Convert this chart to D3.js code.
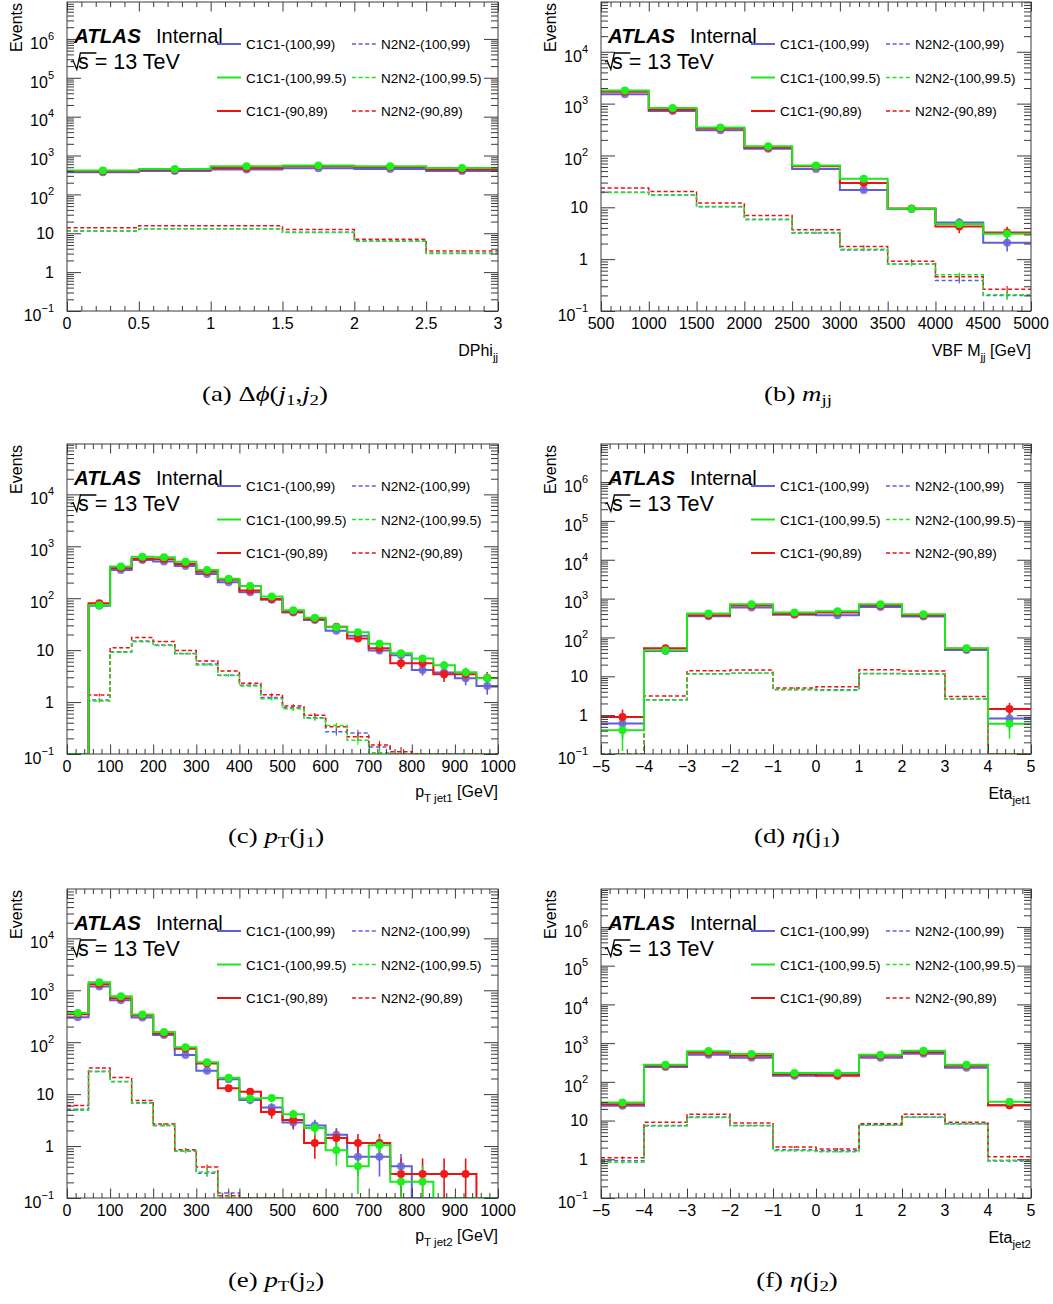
<!DOCTYPE html>
<html>
<head>
<meta charset="utf-8">
<script src="https://cdn.jsdelivr.net/npm/d3@7"></script>
<style>
  body { margin: 0; background: #fff; }
  svg { display: block; }
  text { font-family: "Liberation Sans", Arial, Helvetica, sans-serif; fill: #000; }
  .cap text { font-family: "Liberation Serif", "Times New Roman", serif; }
</style>
</head>
<body>
<svg id="fig" width="1053" height="1304"></svg>
<script>
// ---------------- samples ----------------
const seriesNames = ["C1C1-(100,99)", "C1C1-(100,99.5)", "C1C1-(90,89)",
                     "N2N2-(100,99)", "N2N2-(100,99.5)", "N2N2-(90,89)"];
// per-event MC weight of each sample (sets the statistical error bars)
const eventWeights = [0.21, 0.206, 0.286, 0.006, 0.006, 0.006];

// ---------------- (a) DPhi_jj ----------------
const dphiEdges = [0, 0.5, 1, 1.5, 2, 2.5, 3];
const dphiTicks = [0, 0.5, 1, 1.5, 2, 2.5, 3];
const dphiC1C1_100_99  = [370, 400, 436, 470, 452, 400];
const dphiC1C1_100_995 = [410, 452, 530, 550, 530, 480];
const dphiC1C1_90_89   = [395, 430, 480, 530, 510, 436];
const dphiN2N2_100_99  = [11.4, 13.1, 13.0, 10.6, 6.3, 3.05];
const dphiN2N2_100_995 = [11.5, 13.0, 13.0, 10.5, 6.2, 3.0];
const dphiN2N2_90_89   = [13.8, 15.5, 15.5, 12.5, 7.05, 3.5];

// ---------------- (b) VBF M_jj ----------------
const mjjEdges = [500, 1000, 1500, 2000, 2500, 3000, 3500, 4000, 4500, 5000];
const mjjTicks = [500, 1000, 1500, 2000, 2500, 3000, 3500, 4000, 4500, 5000];
const mjjC1C1_100_99  = [1510, 720, 305, 135, 55, 21.5, 9.3, 5.1, 2.07];
const mjjC1C1_100_995 = [1800, 822, 348, 150, 64, 35.5, 9.4, 4.74, 3.08];
const mjjC1C1_90_89   = [1700, 763, 332, 143, 62, 29.3, 9.5, 4.27, 3.27];
const mjjN2N2_100_99  = [19.6, 17.3, 10.2, 5.9, 3.2, 1.51, 0.81, 0.387, 0.2];
const mjjN2N2_100_995 = [19.4, 17.5, 10.4, 5.74, 3.27, 1.56, 0.80, 0.50, 0.205];
const mjjN2N2_90_89   = [23.5, 20.2, 12.05, 6.97, 3.68, 1.76, 0.915, 0.46, 0.264];

// ---------------- (c) pT jet1 ----------------
const ptEdges = [0, 50, 100, 150, 200, 250, 300, 350, 400, 450, 500,
                 550, 600, 650, 700, 750, 800, 850, 900, 950, 1000];
const ptTicks = [0, 100, 200, 300, 400, 500, 600, 700, 800, 900, 1000];
const pt1C1C1_100_99  = [0, 72, 348, 543, 512, 416, 292, 204, 131, 93, 52.8, 38, 23.7, 18.9, 9.86, 8.0, 4.16, 3.7, 2.87, 2.04];
const pt1C1C1_100_995 = [0, 73, 410, 630, 612, 505, 348, 237, 171, 108, 58.6, 42.2, 27.5, 22, 13.3, 8.75, 6.9, 5.13, 3.75, 2.87];
const pt1C1C1_90_89   = [0, 80, 380, 577, 560, 455, 324, 226, 141, 97, 55, 39.8, 28.3, 16.8, 10.9, 5.6, 5.6, 3.43, 3.43, 2.9];
const pt1N2N2_100_99  = [0, 1.1, 9.3, 15, 12.5, 8.6, 5.4, 3.3, 2.1, 1.23, 0.78, 0.5, 0.267, 0.255, 0.136, 0.095, 0, 0, 0, 0];
const pt1N2N2_100_995 = [0, 1.05, 9.15, 14.5, 12.3, 8.5, 5.2, 3.24, 2.04, 1.16, 0.74, 0.49, 0.353, 0.184, 0.106, 0.09, 0, 0, 0, 0];
const pt1N2N2_90_89   = [0, 1.37, 11.1, 17.6, 14.7, 9.86, 6.2, 3.98, 2.3, 1.39, 0.84, 0.56, 0.333, 0.216, 0.149, 0.11, 0, 0, 0, 0];

// ---------------- (d) Eta jet1 ----------------
const etaEdges = [-5, -4, -3, -2, -1, 0, 1, 2, 3, 4, 5];
const etaTicks = [-5, -4, -3, -2, -1, 0, 1, 2, 3, 4, 5];
const eta1C1C1_100_99  = [0.61, 44.8, 351, 587, 387, 372, 611, 344, 47.5, 0.82];
const eta1C1C1_100_995 = [0.41, 46.6, 411, 716, 436, 472, 716, 395, 53, 0.60];
const eta1C1C1_90_89   = [0.89, 52.5, 372, 662, 403, 436, 674, 372, 51.5, 1.43];
const eta1N2N2_100_99  = [0, 2.5, 11.6, 12.0, 4.6, 4.5, 11.8, 11.5, 2.6, 0];
const eta1N2N2_100_995 = [0, 2.44, 11.4, 11.9, 4.5, 4.33, 11.6, 11.4, 2.59, 0];
const eta1N2N2_90_89   = [0, 3.09, 13.9, 14.5, 4.97, 5.38, 14.8, 13.6, 3.03, 0];

// ---------------- (e) pT jet2 ----------------
const pt2C1C1_100_99  = [303, 1177, 642, 298, 138, 57, 28.1, 19.4, 7.67, 5.54, 2.85, 2.5, 1.65, 0.62, 0.62, 0.41, 0, 0, 0, 0];
const pt2C1C1_100_995 = [366, 1425, 767, 340, 158, 80, 41.2, 20.6, 8.26, 8.4, 4.12, 2.22, 0.83, 0.41, 1.04, 0.206, 0.206, 0, 0, 0];
const pt2C1C1_90_89   = [345, 1304, 702, 326, 147, 74.5, 38.9, 13.0, 11.1, 4.51, 3.16, 1.14, 1.43, 1.14, 1.14, 0.29, 0.29, 0.29, 0.29, 0];
const pt2N2N2_100_99  = [5.1, 27.5, 17.5, 6.8, 2.5, 0.8, 0.3, 0.125, 0, 0, 0, 0, 0, 0, 0, 0, 0, 0, 0, 0];
const pt2N2N2_100_995 = [4.92, 26.9, 17.3, 6.7, 2.5, 0.80, 0.316, 0.1, 0, 0, 0, 0, 0, 0, 0, 0, 0, 0, 0, 0];
const pt2N2N2_90_89   = [6.05, 32, 20.9, 7.55, 2.65, 0.85, 0.395, 0.11, 0, 0, 0, 0, 0, 0, 0, 0, 0, 0, 0, 0];

// ---------------- (f) Eta jet2 ----------------
const eta2C1C1_100_99  = [24.0, 241, 500, 419, 144, 156, 419, 531, 232, 25];
const eta2C1C1_100_995 = [29.2, 277, 621, 520, 169, 169, 500, 634, 277, 30.4];
const eta2C1C1_90_89   = [26.5, 261, 563, 472, 156, 144, 472, 586, 261, 24.9];
const eta2N2N2_100_99  = [0.92, 7.4, 12.3, 7.5, 1.75, 1.65, 7.8, 12.4, 8.3, 0.9];
const eta2N2N2_100_995 = [0.84, 7.2, 12.0, 7.3, 1.67, 1.57, 7.6, 12.2, 8.1, 0.94];
const eta2N2N2_90_89   = [1.10, 9.1, 14.6, 8.6, 2.07, 1.84, 8.26, 14.6, 9.1, 1.17];

// ---------------- styling ----------------
const lineColours   = ["#5f5fdc", "#1ee61e", "#ee1111"];
const markerColours = ["rgba(100,100,222,0.85)", "#1ef01e", "#f01a1a"];
const drawOrder = [0, 2, 1];           // blue, red, green (green ends on top)
const yMin = 0.1;
const axisColour = "#3a3a3a";

const panels = [
  { left: 67,  top: 2,   right: 498,  bottom: 311,  yTopExp: 6.95, edges: dphiEdges, ticks: dphiTicks,
    solid: [dphiC1C1_100_99, dphiC1C1_100_995, dphiC1C1_90_89],
    dashed: [dphiN2N2_100_99, dphiN2N2_100_995, dphiN2N2_90_89],
    title: [["DPhi"], ["jj", "sub"]], titleDy: 45,
    caption: [["(a) Δ"], ["ϕ", "i"], ["("], ["j", "i"], ["1", "sub"], [","], ["j", "i"], ["2", "sub"], [")"]],
    capX: 265, capY: 401 },
  { left: 601, top: 2,   right: 1031, bottom: 311,  yTopExp: 4.96, edges: mjjEdges, ticks: mjjTicks,
    solid: [mjjC1C1_100_99, mjjC1C1_100_995, mjjC1C1_90_89],
    dashed: [mjjN2N2_100_99, mjjN2N2_100_995, mjjN2N2_90_89],
    title: [["VBF M"], ["jj", "sub"], [" [GeV]"]], titleDy: 45,
    caption: [["(b) "], ["m", "i"], ["jj", "sub"]],
    capX: 798, capY: 401 },
  { left: 67,  top: 444, right: 498,  bottom: 754,  yTopExp: 4.97, edges: ptEdges, ticks: ptTicks,
    solid: [pt1C1C1_100_99, pt1C1C1_100_995, pt1C1C1_90_89],
    dashed: [pt1N2N2_100_99, pt1N2N2_100_995, pt1N2N2_90_89],
    title: [["p"], ["T jet1", "sub"], [" [GeV]"]], titleDy: 43,
    caption: [["(c) "], ["p", "i"], ["T", "sub"], ["(j"], ["1", "sub"], [")"]],
    capX: 276, capY: 843 },
  { left: 601, top: 444, right: 1031, bottom: 754,  yTopExp: 6.98, edges: etaEdges, ticks: etaTicks,
    solid: [eta1C1C1_100_99, eta1C1C1_100_995, eta1C1C1_90_89],
    dashed: [eta1N2N2_100_99, eta1N2N2_100_995, eta1N2N2_90_89],
    title: [["Eta"], ["jet1", "sub"]], titleDy: 45,
    caption: [["(d) "], ["η", "i"], ["(j"], ["1", "sub"], [")"]],
    capX: 797, capY: 843 },
  { left: 67,  top: 889, right: 498,  bottom: 1198, yTopExp: 4.95, edges: ptEdges, ticks: ptTicks,
    solid: [pt2C1C1_100_99, pt2C1C1_100_995, pt2C1C1_90_89],
    dashed: [pt2N2N2_100_99, pt2N2N2_100_995, pt2N2N2_90_89],
    title: [["p"], ["T jet2", "sub"], [" [GeV]"]], titleDy: 43,
    caption: [["(e) "], ["p", "i"], ["T", "sub"], ["(j"], ["2", "sub"], [")"]],
    capX: 276, capY: 1287 },
  { left: 601, top: 889, right: 1031, bottom: 1198, yTopExp: 6.98, edges: etaEdges, ticks: etaTicks,
    solid: [eta2C1C1_100_99, eta2C1C1_100_995, eta2C1C1_90_89],
    dashed: [eta2N2N2_100_99, eta2N2N2_100_995, eta2N2N2_90_89],
    title: [["Eta"], ["jet2", "sub"]], titleDy: 45,
    caption: [["(f) "], ["η", "i"], ["(j"], ["2", "sub"], [")"]],
    capX: 797, capY: 1287 }
];

const svg = d3.select("#fig");

// writes a list of [text, kind] pieces as tspans; kind "sub" lowers and shrinks, "i" italicises
function richText(sel, pieces, subSize, subShift) {
  let shifted = 0;
  pieces.forEach(([t, kind]) => {
    const ts = sel.append("tspan").text(t);
    if (kind === "sub") {
      ts.attr("font-size", subSize).attr("dy", subShift - shifted);
      shifted = subShift;
    } else {
      if (shifted) ts.attr("dy", -shifted);
      shifted = 0;
      if (kind === "i") ts.attr("font-style", "italic");
    }
  });
}

panels.forEach((p, pi) => {
  const g = svg.append("g");
  const x = d3.scaleLinear()
    .domain([p.edges[0], p.edges[p.edges.length - 1]])
    .range([p.left, p.right]);
  const yMax = Math.pow(10, p.yTopExp);
  const y = d3.scaleLog().domain([yMin, yMax]).range([p.bottom, p.top]).clamp(true);
  const yv = v => y(Math.min(Math.max(v, yMin), yMax));

  const clipId = "clip" + pi;
  g.append("clipPath").attr("id", clipId).append("rect")
    .attr("x", p.left).attr("y", p.top)
    .attr("width", p.right - p.left).attr("height", p.bottom - p.top);
  const plot = g.append("g").attr("clip-path", `url(#${clipId})`);

  const nb = p.edges.length - 1;
  const centre = i => x((p.edges[i] + p.edges[i + 1]) / 2);
  const step = d3.line().curve(d3.curveStepAfter).x(d => d[0]).y(d => d[1]);
  const stepPoints = vals => p.edges.map((e, i) => [x(e), yv(vals[Math.min(i, nb - 1)])]);

  // dashed N2N2 histograms with their small statistical bars
  drawOrder.forEach(k => {
    const vals = p.dashed[k];
    plot.append("path").attr("d", step(stepPoints(vals)))
      .attr("fill", "none").attr("stroke", lineColours[k])
      .attr("stroke-width", 1.5).attr("stroke-dasharray", "4,2.6");
    vals.forEach((v, i) => {
      if (v < yMin) return;
      const err = Math.sqrt(v * eventWeights[3 + k]);
      plot.append("line").attr("x1", centre(i)).attr("x2", centre(i))
        .attr("y1", yv(v - err)).attr("y2", yv(v + err))
        .attr("stroke", lineColours[k]).attr("stroke-width", 1.2);
    });
  });

  // solid C1C1 histograms
  drawOrder.forEach(k => {
    plot.append("path").attr("d", step(stepPoints(p.solid[k])))
      .attr("fill", "none").attr("stroke", lineColours[k]).attr("stroke-width", 2);
  });
  // error bars and markers at bin centres
  drawOrder.forEach(k => {
    p.solid[k].forEach((v, i) => {
      if (v < yMin) return;
      const err = Math.sqrt(v * eventWeights[k]);
      plot.append("line").attr("x1", centre(i)).attr("x2", centre(i))
        .attr("y1", yv(v - err)).attr("y2", yv(v + err))
        .attr("stroke", lineColours[k]).attr("stroke-width", 1.6);
    });
  });
  drawOrder.forEach(k => {
    p.solid[k].forEach((v, i) => {
      if (v < yMin) return;
      plot.append("circle").attr("cx", centre(i)).attr("cy", yv(v)).attr("r", 4)
        .attr("fill", markerColours[k]);
    });
  });

  // ---- axes (ROOT style: ticks inside on all four sides) ----
  const minorX = [];
  for (let i = 0; i < p.ticks.length - 1; i++) {
    const a = p.ticks[i], b = p.ticks[i + 1];
    for (let j = 1; j < 5; j++) minorX.push(a + (b - a) * j / 5);
  }
  const decades = d3.range(-1, Math.floor(p.yTopExp) + 1);
  const minorY = [];
  decades.forEach(e => {
    for (let m = 2; m <= 9; m++) {
      const v = m * Math.pow(10, e);
      if (v <= yMax) minorY.push(v);
    }
  });
  const styleAxis = ax => {
    ax.select(".domain").remove();
    ax.selectAll("line").attr("stroke", axisColour).attr("stroke-width", 1);
    ax.selectAll("text").remove();
  };
  g.append("g").attr("transform", `translate(0,${p.bottom})`)
    .call(d3.axisBottom(x).tickValues(p.ticks).tickSize(-9.5)).call(styleAxis);
  g.append("g").attr("transform", `translate(0,${p.bottom})`)
    .call(d3.axisBottom(x).tickValues(minorX).tickSize(-5)).call(styleAxis);
  g.append("g").attr("transform", `translate(0,${p.top})`)
    .call(d3.axisTop(x).tickValues(p.ticks).tickSize(-9.5)).call(styleAxis);
  g.append("g").attr("transform", `translate(0,${p.top})`)
    .call(d3.axisTop(x).tickValues(minorX).tickSize(-5)).call(styleAxis);
  const decadeVals = decades.map(e => Math.pow(10, e));
  g.append("g").attr("transform", `translate(${p.left},0)`)
    .call(d3.axisLeft(y).tickValues(decadeVals).tickSize(-14)).call(styleAxis);
  g.append("g").attr("transform", `translate(${p.left},0)`)
    .call(d3.axisLeft(y).tickValues(minorY).tickSize(-7)).call(styleAxis);
  g.append("g").attr("transform", `translate(${p.right},0)`)
    .call(d3.axisRight(y).tickValues(decadeVals).tickSize(-14)).call(styleAxis);
  g.append("g").attr("transform", `translate(${p.right},0)`)
    .call(d3.axisRight(y).tickValues(minorY).tickSize(-7)).call(styleAxis);

  g.append("rect").attr("x", p.left).attr("y", p.top)
    .attr("width", p.right - p.left).attr("height", p.bottom - p.top)
    .attr("fill", "none").attr("stroke", axisColour).attr("stroke-width", 1);

  // x tick labels
  const fmt = d3.format("~g");
  p.ticks.forEach(t => {
    g.append("text").attr("x", x(t)).attr("y", p.bottom + 17.5)
      .attr("text-anchor", "middle").attr("font-size", 16).text(fmt(t));
  });
  // y tick labels: 10^-1, 1, 10, 10^2 ...
  decades.forEach(e => {
    const ty = y(Math.pow(10, e));
    const t = g.append("text").attr("x", p.left - 13).attr("text-anchor", "end").attr("font-size", 16);
    if (e === 0 || e === 1) {
      t.attr("y", ty + 5.7).text(e === 0 ? "1" : "10");
    } else {
      t.attr("y", ty + 9.8);
      t.append("tspan").text("10");
      t.append("tspan").attr("font-size", 11).attr("dy", -9)
        .text(e < 0 ? "\u2212" + (-e) : String(e));
    }
  });

  // axis titles
  g.append("text")
    .attr("transform", `translate(${p.left - 45},${p.top + 1}) rotate(-90)`)
    .attr("text-anchor", "end").attr("font-size", 16).text("Events");
  const xt = g.append("text").attr("x", p.right).attr("y", p.bottom + p.titleDy)
    .attr("text-anchor", "end").attr("font-size", 16);
  richText(xt, p.title, 11.5, 5);

  // ATLAS label
  g.append("text").attr("x", p.left + 7).attr("y", p.top + 41)
    .attr("font-size", 20.5).attr("font-weight", "bold").attr("font-style", "italic").text("ATLAS");
  g.append("text").attr("x", p.left + 89).attr("y", p.top + 41)
    .attr("font-size", 20).text("Internal");
  g.append("path")
    .attr("d", `M${p.left + 4},${p.top + 60} l2.2,-1.2 l3.6,8.6 l3.6,-16.4 h16`)
    .attr("fill", "none").attr("stroke", "#000").attr("stroke-width", 1.3);
  g.append("text").attr("x", p.left + 11).attr("y", p.top + 67)
    .attr("font-size", 21.5).text("s = 13 TeV");

  // legend: solid C1C1 column, dashed N2N2 column
  const rows = [42, 75.5, 109];
  [0, 1, 2].forEach(k => {
    const ry = p.top + rows[k];
    g.append("line").attr("x1", p.left + 150).attr("x2", p.left + 174)
      .attr("y1", ry).attr("y2", ry).attr("stroke", lineColours[k]).attr("stroke-width", 2);
    g.append("text").attr("x", p.left + 179).attr("y", ry + 5)
      .attr("font-size", 13.5).text(seriesNames[k]);
    g.append("line").attr("x1", p.left + 285).attr("x2", p.left + 309)
      .attr("y1", ry).attr("y2", ry).attr("stroke", lineColours[k])
      .attr("stroke-width", 1.5).attr("stroke-dasharray", "4,2.6");
    g.append("text").attr("x", p.left + 314).attr("y", ry + 5)
      .attr("font-size", 13.5).text(seriesNames[3 + k]);
  });

  // sub-figure caption
  const cap = svg.append("g").attr("class", "cap")
    .attr("transform", `translate(${p.capX},${p.capY}) scale(1.22,1)`);
  const ct = cap.append("text").attr("x", 0).attr("y", 0)
    .attr("text-anchor", "middle").attr("font-size", 22);
  richText(ct, p.caption, 15.5, 4);
});
</script>
</body>
</html>
